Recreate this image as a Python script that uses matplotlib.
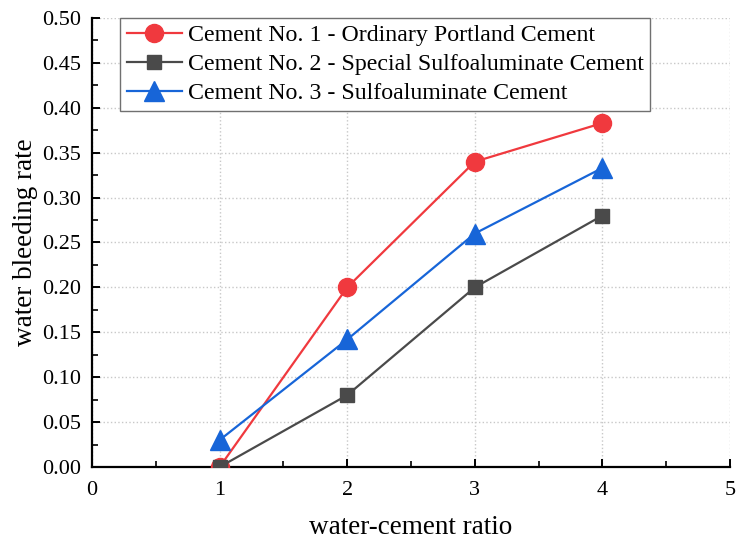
import matplotlib.pyplot as plt
from matplotlib.ticker import MultipleLocator

plt.rcParams['font.family'] = ['Liberation Serif', 'DejaVu Serif']

ratio = [1, 2, 3, 4]
cement_1 = [0.0, 0.20, 0.34, 0.383]
cement_2 = [0.0, 0.08, 0.20, 0.28]
cement_3 = [0.03, 0.142, 0.26, 0.333]

labels = ['Cement No. 1 - Ordinary Portland Cement',
          'Cement No. 2 - Special Sulfoaluminate Cement',
          'Cement No. 3 - Sulfoaluminate Cement']


def plot_bleeding():
    fig = plt.figure(figsize=(7.37, 5.41), dpi=100)
    ax = fig.add_axes([92 / 737, 74 / 541, 638 / 737, 449 / 541])

    ax.plot(ratio, cement_1, color='#F0393E', lw=1.6, marker='o', ms=13,
            label=labels[0], zorder=3)
    ax.plot(ratio, cement_2, color='#4A4A4A', lw=1.6, marker='s', ms=10.5,
            label=labels[1], zorder=3)
    ax.plot(ratio, cement_3, color='#1765D8', lw=1.6, marker='^', ms=14,
            label=labels[2], zorder=3)

    ax.set_xlim(0, 5)
    ax.set_ylim(0, 0.5)
    ax.xaxis.set_major_locator(MultipleLocator(1))
    ax.xaxis.set_minor_locator(MultipleLocator(0.5))
    ax.yaxis.set_major_locator(MultipleLocator(0.05))
    ax.yaxis.set_minor_locator(MultipleLocator(0.025))
    ax.yaxis.set_major_formatter(lambda v, p: f'{v:.2f}')

    ax.grid(True, which='major', color='#C8C8C8', ls=':', lw=1.0)
    ax.set_axisbelow(True)
    for side in ['top', 'right']:
        ax.spines[side].set_visible(False)
    for side in ['left', 'bottom']:
        ax.spines[side].set_linewidth(1.6)
    ax.tick_params(which='major', direction='in', length=6, width=1.4,
                   labelsize=16)
    ax.tick_params(axis='y', which='major', pad=8)
    ax.tick_params(axis='x', which='major', pad=10)
    ax.tick_params(which='minor', direction='in', length=4.5, width=1.2)

    ax.set_xlabel('water-cement ratio', fontsize=19.5)
    ax.xaxis.set_label_coords(0.5, -48 / 449)
    ax.set_ylabel('water bleeding rate', fontsize=19.5)
    ax.yaxis.set_label_coords(-54 / 638, 0.5)

    leg = ax.legend(loc='upper left', bbox_to_anchor=(28 / 638, 1.0), fontsize=17.2,
                    fancybox=False, framealpha=1, edgecolor='#707070',
                    handlelength=2.3, borderpad=0.28, labelspacing=0.3,
                    handletextpad=0.25, borderaxespad=0.0)
    leg.get_frame().set_linewidth(1.0)

    fig.savefig('out.png', dpi=100)


def main():
    plot_bleeding()


if __name__ == '__main__':
    main()
